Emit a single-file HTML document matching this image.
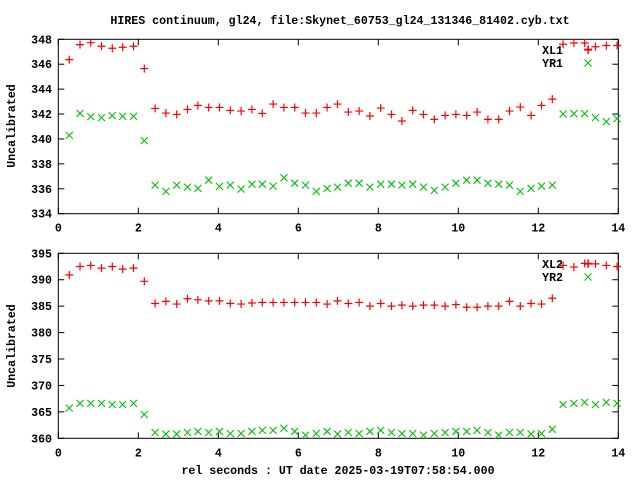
<!DOCTYPE html>
<html><head><meta charset="utf-8"><style>
body{margin:0;background:#fff;}
svg text{font-family:"Liberation Mono",monospace;font-weight:bold;font-size:11.6px;fill:#000;}
</style></head><body>
<svg id="chart" width="640" height="480" viewBox="0 0 640 480" xmlns="http://www.w3.org/2000/svg">
<rect x="0" y="0" width="640" height="480" fill="#fff"/>
<text x="340" y="24" text-anchor="middle">HIRES continuum, gl24, file:Skynet_60753_gl24_131346_81402.cyb.txt</text>
<text x="338" y="474" text-anchor="middle">rel seconds : UT date 2025-03-19T07:58:54.000</text>
<g id="p1"></g>
<g id="p2"></g>
</svg>
<script>
const times=[];
const baseTimes=[0.275,0.543,0.811,1.08,1.35,1.61,1.88,2.15,2.42,2.69,2.96,3.23,3.49,3.76,4.03,4.3,4.57,4.84,5.1,5.37,5.64,5.91,6.18,6.45,6.72,6.98,7.25,7.52,7.79,8.06,8.33,8.59,8.86,9.13,9.4,9.67,9.94,10.21,10.47,10.74,11.01,11.28,11.55,11.82,12.08,12.35,12.62,12.89,13.16,13.43,13.7,13.97];
const extraTime=[13.25];
const xl1=[346.37,347.57,347.73,347.44,347.28,347.36,347.44,345.65,342.45,342.08,341.97,342.37,342.69,342.53,342.53,342.29,342.24,342.37,342.05,342.8,342.53,342.53,342.08,342.08,342.53,342.8,342.16,342.24,341.84,342.48,341.97,341.44,342.29,341.97,341.57,341.89,341.97,341.89,342.16,341.57,341.57,342.24,342.56,341.89,342.69,343.2,347.6,347.7,347.7,347.4,347.5,347.5];
const xl1Extra=[347.2];
const yr1=[340.29,342.05,341.79,341.71,341.87,341.81,341.81,339.87,336.29,335.79,336.29,336.13,336.03,336.69,336.19,336.29,335.97,336.37,336.37,336.21,336.88,336.45,336.29,335.79,336.03,336.13,336.45,336.45,336.13,336.37,336.37,336.29,336.37,336.13,335.87,336.13,336.45,336.69,336.69,336.45,336.37,336.29,335.79,336.03,336.21,336.29,342.0,342.03,342.03,341.71,341.39,341.63];
const xl2=[390.9,392.5,392.7,392.2,392.5,392.0,392.2,389.7,385.5,385.9,385.4,386.4,386.2,386.0,386.0,385.5,385.4,385.6,385.7,385.7,385.7,385.7,385.7,385.7,385.4,386.0,385.5,385.7,385.0,385.5,385.0,385.2,385.0,385.2,385.2,385.0,385.3,384.8,384.8,385.0,385.0,385.9,385.0,385.5,385.4,386.5,392.7,392.4,393.1,393.0,392.7,392.5];
const xl2Extra=[393.1];
const yr2=[365.7,366.6,366.6,366.6,366.4,366.4,366.6,364.5,361.1,360.8,360.8,361.1,361.3,361.1,361.3,360.9,360.9,361.3,361.5,361.5,361.9,361.3,360.6,360.9,361.3,360.8,361.1,360.9,361.3,361.5,361.1,360.9,360.9,360.6,360.9,361.1,361.3,361.3,361.5,361.1,360.6,361.1,361.1,360.8,360.9,361.7,366.4,366.6,366.8,366.4,366.8,366.6];
const xTicks=[0,2,4,6,8,10,12,14];
const y1Ticks=[334,336,338,340,342,344,346,348];
const y2Ticks=[360,365,370,375,380,385,390,395];

const NS="http://www.w3.org/2000/svg";
const X0=58.3,X1=618.3,XMIN=0,XMAX=14;
function sx(t){return X0+(t-XMIN)/(XMAX-XMIN)*(X1-X0);}
function mk(tag,attrs,parent){const e=document.createElementNS(NS,tag);for(const k in attrs)e.setAttribute(k,attrs[k]);parent.appendChild(e);return e;}

function panel(g,top,bot,ymin,ymax,yt,sA,sB,extraA,names,labelY,legendY){
  const sy=v=>bot-(v-ymin)/(ymax-ymin)*(bot-top);
  const fr=mk('rect',{x:X0,y:top,width:X1-X0,height:bot-top,fill:'none',stroke:'#000','stroke-width':1},g);
  
  
  xTicks.forEach(t=>{const x=sx(t);
    mk('line',{x1:x,y1:bot,x2:x,y2:bot-6,stroke:'#000'},g);
    mk('line',{x1:x,y1:top,x2:x,y2:top+6,stroke:'#000'},g);
    const tx=mk('text',{x:x,y:bot+18,'text-anchor':'middle'},g);tx.textContent=t;
    
    
  });
  yt.forEach(v=>{const y=sy(v);
    mk('line',{x1:X0,y1:y,x2:X0+6,y2:y,stroke:'#000'},g);
    mk('line',{x1:X1,y1:y,x2:X1-6,y2:y,stroke:'#000'},g);
    const tx=mk('text',{x:52,y:y+4,'text-anchor':'end'},g);tx.textContent=v;
    
    
  });
  const yl=mk('text',{x:0,y:0,'text-anchor':'middle',transform:`translate(15,${labelY}) rotate(-90)`},g);
  yl.textContent='Uncalibrated';
  
  
  function plus(x,y){const p=mk('path',{d:`M${x-4},${y}H${x+4}M${x},${y-4}V${y+4}`,stroke:'#ff0000','stroke-width':1.2,fill:'none'},g);
    
    }
  function cross(x,y){const p=mk('path',{d:`M${x-3.5},${y-3.5}L${x+3.5},${y+3.5}M${x-3.5},${y+3.5}L${x+3.5},${y-3.5}`,stroke:'#00c000','stroke-width':1.1,fill:'none'},g);
    
    }
  // legend
  const l1=mk('text',{x:563,y:legendY,'text-anchor':'end'},g);l1.textContent=names[0];
  
  
  const l2=mk('text',{x:563,y:legendY+13,'text-anchor':'end'},g);l2.textContent=names[1];
  
  
  baseTimes.forEach((t,i)=>{plus(sx(t),sy(sA[i]));cross(sx(t),sy(sB[i]));});
  extraTime.forEach((t,i)=>plus(sx(t),sy(extraA[i])));
  plus(588,legendY-4);cross(588,legendY+9);
}
panel(document.getElementById('p1'),39.3,213.7,334,348,y1Ticks,xl1,yr1,xl1Extra,['XL1','YR1'],126,54);
panel(document.getElementById('p2'),253.3,438.3,360,395,y2Ticks,xl2,yr2,xl2Extra,['XL2','YR2'],346,268);
</script>
</body></html>
